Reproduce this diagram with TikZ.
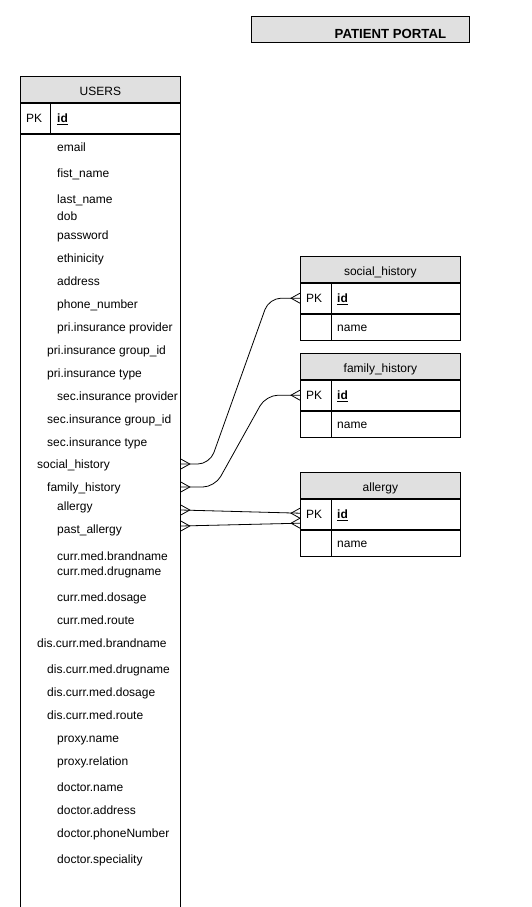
\documentclass[tikz,border=0pt]{standalone}
\usepackage{fontspec}
\setmainfont{Liberation Sans}
\usetikzlibrary{positioning}
\definecolor{hdrgray}{HTML}{E0E0E0}
\tikzset{
  cell/.style={draw, line width=0.8pt, inner sep=0pt, anchor=north west},
  hdr/.style={cell, fill=hdrgray, text height=11.5pt, text depth=0pt},
  field/.style={anchor=west, inner sep=0pt, text height=8pt, text depth=2pt, yshift=-1pt},
  link/.style={line width=0.8pt, rounded corners=12pt},
  pics/crowl/.style={code={\draw[line width=0.8pt] (0,-5) -- (9,0) -- (0,5);}},
  pics/crowr/.style={code={\draw[line width=0.8pt] (0,-5) -- (-9,0) -- (0,5);}}
}
\begin{document}
\fontsize{12}{14}\selectfont
\begin{tikzpicture}[x=1pt, y=-1pt]
    \useasboundingbox (0,0) rectangle (531,907);
    % Tiêu đề
    \node[hdr, minimum width=218pt, minimum height=26pt, text height=18pt, text depth=0.6pt,
      font=\fontsize{13.2}{15}\selectfont\bfseries] (title) at (251,16) {\hspace*{60pt}PATIENT PORTAL};
    
    % Bảng USERS
    \node[hdr, minimum width=160pt, minimum height=26pt] (usershdr) at (20,76) {USERS};
    \node[cell, minimum width=160pt, minimum height=30pt, below right=0pt of usershdr.south west] (userspk) {};
    \draw[line width=0.8pt] ([xshift=30.7pt]userspk.north west) -- ([xshift=30.7pt]userspk.south west);
    \node[field] at ([xshift=6pt]userspk.west) {PK};
    \node[field, font=\bfseries] at ([xshift=37pt]userspk.west) {\underline{id}};
    \node[cell, minimum width=160pt, minimum height=774pt, below right=0pt of userspk.south west] (users) {};
    
    % Các trường của USERS
    \foreach \nm/\px/\py/\txt in {
      email/57/147/email, fist/57/173/fist\_name, last/57/199/last\_name,
      dob/57/216/dob, password/57/235/password, ethinicity/57/258/ethinicity,
      address/57/281/address, phone/57/304/phone\_number,
      priprov/57/327/pri.insurance provider, prigrp/47/350/pri.insurance group\_id,
      pritype/47/373/pri.insurance type, secprov/57/396/sec.insurance provider,
      secgrp/47/419/sec.insurance group\_id, sectype/47/442/sec.insurance type,
      social/37/464/social\_history, family/47/487/family\_history,
      allergy/57/506/allergy, past/57/529/past\_allergy,
      brand/57/556/curr.med.brandname, drug/57/571/curr.med.drugname,
      dosage/57/597/curr.med.dosage, route/57/620/curr.med.route,
      disbrand/37/643/dis.curr.med.brandname, disdrug/47/669/dis.curr.med.drugname,
      disdosage/47/692/dis.curr.med.dosage, disroute/47/715/dis.curr.med.route,
      proxyname/57/738/proxy.name, proxyrel/57/761/proxy.relation,
      docname/57/787/doctor.name, docaddr/57/810/doctor.address,
      docphone/57/833/doctor.phoneNumber, docspec/57/859/doctor.speciality}
    \node[field] (f\nm) at (\px,\py) {\txt};
    
    % Các bảng nhỏ
    \foreach \nm/\ttl/\top in {soc/social\_history/256, fam/family\_history/353, alg/allergy/472}{
      \node[hdr, minimum width=160pt, minimum height=26pt] (\nm hdr) at (300,\top) {\ttl};
      \node[cell, minimum width=160pt, minimum height=30pt, below right=0pt of \nm hdr.south west] (\nm pk) {};
      \node[cell, minimum width=160pt, minimum height=26pt, below right=0pt of \nm pk.south west] (\nm row) {};
      \draw[line width=0.8pt] ([xshift=31pt]\nm pk.north west) -- ([xshift=31pt]\nm row.south west);
      \node[field] at ([xshift=6pt]\nm pk.west) {PK};
      \node[field, font=\bfseries] at ([xshift=37pt]\nm pk.west) {\underline{id}};
      \node[field] at ([xshift=37pt]\nm row.west) {name};
    }
    
    % Các đường nối
    \coordinate (lsoc) at ([yshift=1pt]fsocial.center -| users.east);
    \coordinate (lfam) at ([yshift=1pt]ffamily.center -| users.east);
    \coordinate (lalg) at ([yshift=-3pt]fallergy.center -| users.east);
    \coordinate (lpast) at ([yshift=4pt]fpast.center -| users.east);
    \coordinate (ralg) at ([yshift=1pt]algpk.west);
    \coordinate (rpast) at ([yshift=-9pt]algpk.west);
    \draw[link] (lsoc) -- ++(29,0) -- ([xshift=-31pt]socpk.west) -- (socpk.west);
    \draw[link] (lfam) -- ++(34,0) -- ([xshift=-34pt]fampk.west) -- (fampk.west);
    \draw[link] (lalg) -- (ralg);
    \draw[link] (lpast) -- (rpast);
    
    % Chân quạ
    \foreach \c in {lsoc, lfam, lalg, lpast}
    \pic at (\c) {crowl};
    \foreach \c in {socpk.west, fampk.west, ralg, rpast}
    \pic at (\c) {crowr};
\end{tikzpicture}
\end{document}
